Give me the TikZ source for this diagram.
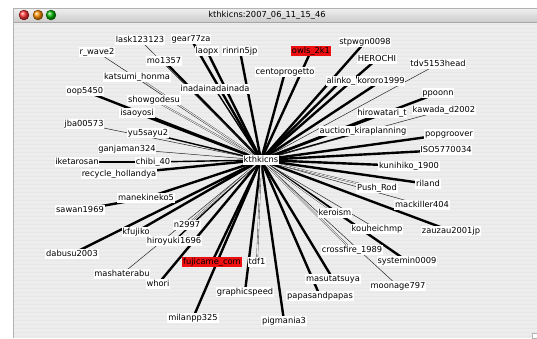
\documentclass[tikz,border=0pt]{standalone}
\usepackage{fontspec}
\setmainfont{DejaVu Sans}
\pgfdeclarelayer{winbg}
\pgfdeclarelayer{edges}
\pgfsetlayers{winbg,edges,main}
\definecolor{winbgc}{RGB}{237,237,237}
\definecolor{stripe}{RGB}{231,231,231}
\definecolor{lblred}{RGB}{238,16,16}
\tikzset{
  lbl/.style={fill=white, inner sep=0.8pt, font=\fontsize{8.3}{9}\selectfont, text height=6.2pt, text depth=1.8pt},
  redlbl/.style={lbl, fill=lblred},
  ethick/.style={line width=2.4pt},
  emed/.style={line width=1.4pt},
  ethin/.style={line width=0.5pt, draw=black!85},
  edbl/.style={line width=0.35pt, draw=black!80, double=winbgc, double distance=0.9pt},
}
\begin{document}
\begin{tikzpicture}[x=1pt,y=-1pt]
\useasboundingbox (0,0) rectangle (537,338);
\begin{pgfonlayer}{winbg}
  \fill[white] (0,0) rectangle (537,338);
  \fill[winbgc] (13,22) rectangle (537,338);
  \foreach \yy in {24,28,...,336} { \draw[stripe, line width=0.5pt] (13,\yy) -- (537,\yy); }
  \shade[top color=black!6, bottom color=black!20] (13,8) rectangle (537,22);
  \draw[black!35, line width=0.4pt] (13,22) -- (537,22);
  \draw[black!30, line width=0.4pt] (13,8) -- (537,8) (13,8) -- (13,338);
  \node[circle, inner sep=0pt, minimum size=10pt, ball color=red!80, draw=red!40!black, line width=0.3pt] (tlr) at (24,15) {};
  \node[circle, inner sep=0pt, minimum size=10pt, ball color=orange!90!yellow, draw=orange!40!black, line width=0.3pt] (tlo) at (38,15) {};
  \node[circle, inner sep=0pt, minimum size=10pt, ball color=green!70!black, draw=green!30!black, line width=0.3pt] (tlg) at (51,15) {};
  \node[font=\fontsize{8.3}{9}\selectfont, inner sep=0pt] (title) at (267,15) {kthkicns:2007\_06\_11\_15\_46};
  \fill[white, draw=black!30, line width=0.3pt] (532,333) rectangle (537,338);
\end{pgfonlayer}

\node[lbl] (c) at (261,160) {kthkicns};

\node[lbl] (lask) at (140,40) {lask123123};
\node[lbl] (gear) at (191,39) {gear77za};
\node[lbl] (laopx) at (207,51) {laopx};
\node[lbl] (rinrin) at (240,51) {rinrin5jp};
\node[redlbl] (owls) at (311,51) {owls\_2k1};
\node[lbl] (stpwgn) at (365,42) {stpwgn0098};
\node[lbl] (herochi) at (377,59) {HEROCHI};
\node[lbl] (tdv) at (438,64) {tdv5153head};
\node[lbl] (rwave) at (97,52) {r\_wave2};
\node[lbl] (mo) at (164,61) {mo1357};
\node[lbl] (cento) at (285,72) {centoprogetto};
\node[lbl] (kororo) at (381,81) {kororo1999};
\node[lbl] (alinko) at (341,81) {alinko\_};
\node[lbl] (katsumi) at (137,77) {katsumi\_honma};
\node[lbl] (inada) at (215,89) {inadainadainada};
\node[lbl] (oop) at (85,91) {oop5450};
\node[lbl] (showgo) at (154,100) {showgodesu};
\node[lbl] (ppoonn) at (438,93) {ppoonn};
\node[lbl] (kawada) at (444,110) {kawada\_d2002};
\node[lbl] (hirowa) at (382,113) {hirowatari\_t};
\node[lbl] (isao) at (137,113) {isaoyosi};
\node[lbl] (jba) at (84,124) {jba00573};
\node[lbl] (yu5) at (148,133) {yu5sayu2};
\node[lbl] (auction) at (363,131) {auction\_kiraplanning};
\node[lbl] (popg) at (449,134) {popgroover};
\node[lbl] (ganja) at (127,149) {ganjaman324};
\node[lbl] (iso) at (446,150) {ISO5770034};
\node[lbl] (iketa) at (77,162) {iketarosan};
\node[lbl] (chibi) at (153,162) {chibi\_40};
\node[lbl] (kuni) at (409,166) {kunihiko\_1900};
\node[lbl] (recyc) at (119,174) {recycle\_hollandya};
\node[lbl] (riland) at (428,184) {riland};
\node[lbl] (push) at (377,188) {Push\_Rod};
\node[lbl] (maneki) at (146,198) {manekineko5};
\node[lbl] (mack) at (422,205) {mackiller404};
\node[lbl] (sawan) at (80,210) {sawan1969};
\node[lbl] (kero) at (335,213) {keroism};
\node[lbl] (n2997) at (187,225) {n2997};
\node[lbl] (kouhei) at (377,229) {kouheichmp};
\node[lbl] (zauzau) at (451,231) {zauzau2001jp};
\node[lbl] (kfuji) at (136,232) {kfujiko};
\node[lbl] (hiroyu) at (174,241) {hiroyuki1696};
\node[lbl] (cross) at (352,250) {crossfire\_1989};
\node[lbl] (dabusu) at (72,254) {dabusu2003};
\node[lbl] (system) at (407,261) {systemin0009};
\node[redlbl] (fuji) at (212,262) {fujicame\_com};
\node[lbl] (tdf) at (257,262) {tdf1};
\node[lbl] (masha) at (122,274) {mashaterabu};
\node[lbl] (masu) at (333,279) {masutatsuya};
\node[lbl] (whori) at (158,284) {whori};
\node[lbl] (moon) at (398,286) {moonage797};
\node[lbl] (graph) at (245,292) {graphicspeed};
\node[lbl] (papas) at (320,296) {papasandpapas};
\node[lbl] (milan) at (193,318) {milanpp325};
\node[lbl] (pigm) at (284,321) {pigmania3};

\begin{pgfonlayer}{edges}
  \foreach \n in {gear,laopx,rinrin,owls,stpwgn,herochi,kororo,alinko,cento,mo,oop,isao,recyc,maneki,kfuji,dabusu,whori,fuji,milan,graph,pigm,papas,masu,system,zauzau,riland,kuni,iso,popg,hirowa,ppoonn}
    { \draw[ethick] (c.center) -- (\n.center); }
  \foreach \n in {inada,yu5,chibi,auction,hiroyu}
    { \draw[emed] (c.center) -- (\n.center); }
  \foreach \n in {lask,rwave,jba,ganja,masha,moon,kouhei,mack,tdv,kawada}
    { \draw[ethin] (c.center) -- (\n.center); }
  \foreach \n in {katsumi,showgo,n2997,tdf,cross,kero,push}
    { \draw[edbl] (c.center) -- (\n.center); }
  \draw[ethick] (sawan.center) -- (maneki.center);
  \draw[ethick] (iketa.center) -- (chibi.center);
\end{pgfonlayer}
\end{tikzpicture}
\end{document}
